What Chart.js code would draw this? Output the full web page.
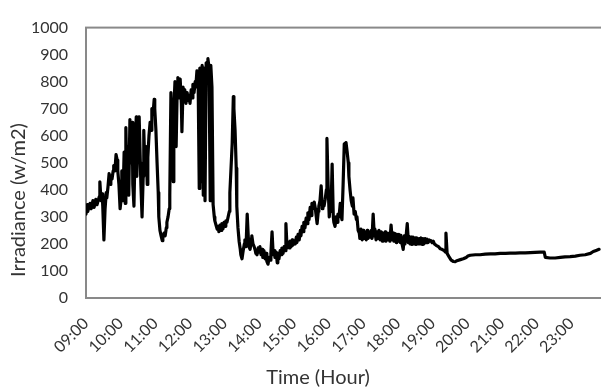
<!DOCTYPE html>
<html lang="en">
<head>
<meta charset="UTF-8">
<title>Irradiance</title>
<script src="https://cdn.jsdelivr.net/npm/chart.js"></script>
<style>
    html, body { margin: 0; padding: 0; overflow: hidden; background: #fff; }
    canvas { display: block; }
</style>
</head>
<body>
<canvas id="irradianceChart" width="612" height="389"></canvas>
<script>
    // logger readings (time of day, w/m2)
    const times = [
        '09:00','09:02','09:03','09:07','09:09','09:12','09:14','09:17','09:19','09:23',
        '09:24','09:26','09:28','09:29','09:31','09:33','09:35','09:36','09:38','09:40',
        '09:42','09:43','09:45','09:47','09:48','09:50','09:52','09:54','09:55','09:57',
        '09:59','10:01','10:02','10:04','10:06','10:08','10:09','10:11','10:13','10:14',
        '10:16','10:18','10:20','10:21','10:23','10:25','10:27','10:28','10:30','10:32',
        '10:34','10:35','10:37','10:39','10:40','10:42','10:44','10:46','10:47','10:49',
        '10:51','10:53','10:54','10:56','10:58','10:59','11:01','11:03','11:05','11:06',
        '11:08','11:10','11:12','11:13','11:15','11:17','11:19','11:20','11:22','11:24',
        '11:25',
        '11:27','11:29','11:31','11:32','11:34','11:36','11:38','11:39','11:41','11:43',
        '11:45','11:46','11:48','11:50','11:51','11:53','11:55','11:57','11:58','12:00',
        '12:02','12:04','12:05','12:07','12:09','12:10','12:12','12:14','12:16','12:17',
        '12:19','12:21','12:23','12:24','12:26','12:28','12:30','12:31','12:33','12:35',
        '12:36','12:38','12:40','12:42','12:43','12:45','12:47','12:49','12:50','12:52',
        '12:54','12:55','12:57','12:59','13:01','13:02','13:04','13:06','13:08','13:09',
        '13:11','13:13','13:15','13:16','13:18','13:20','13:21','13:23','13:25','13:27',
        '13:28','13:30','13:32','13:34','13:35','13:37','13:39','13:41','13:42','13:44',
        '13:46','13:47','13:49','13:51','13:53','13:54','13:56','13:58',
        '14:00','14:01','14:03','14:05','14:06','14:08','14:10','14:12','14:13','14:15',
        '14:17','14:19','14:20','14:22','14:24','14:26','14:27','14:29','14:31','14:32',
        '14:34','14:36','14:38','14:39','14:41','14:43','14:45','14:46','14:48','14:50',
        '14:52','14:53','14:55','14:57','14:58','15:00','15:02','15:04','15:05','15:07',
        '15:09','15:11','15:12','15:14','15:16','15:17','15:19','15:21','15:23','15:24',
        '15:26','15:28','15:30','15:31','15:33','15:35','15:37','15:38','15:40','15:42',
        '15:43','15:45','15:47','15:49','15:50','15:52','15:54','15:56','15:57','15:59',
        '16:01','16:03','16:04','16:06','16:08','16:09','16:11','16:13','16:15','16:16',
        '16:18','16:20','16:22','16:23','16:25','16:27','16:28','16:30','16:32','16:34',
        '16:35','16:37','16:39','16:41','16:42','16:44','16:46','16:48','16:49','16:51',
        '16:53','16:54','16:56','16:58','17:00','17:01','17:03','17:05','17:07','17:08',
        '17:10','17:12','17:14','17:15','17:17','17:19','17:20','17:22','17:24','17:26',
        '17:27','17:29','17:31','17:33','17:34','17:36','17:38','17:39','17:41','17:43',
        '17:45','17:46','17:48','17:50','17:52','17:53','17:55','17:57','17:58','18:00',
        '18:02','18:04','18:05','18:07','18:09','18:11','18:12','18:14','18:16','18:18',
        '18:19','18:21','18:23','18:24','18:26','18:28','18:30','18:31','18:33','18:35',
        '18:37','18:38','18:40','18:42','18:43','18:45','18:47','18:49','18:50','18:52',
        '18:54','18:56','18:57','18:59','19:01','19:03',
        '19:06','19:10','19:13','19:16','19:20','19:22','19:23','19:25','19:29','19:32',
        '19:36','19:39','19:42','19:48','19:53','19:58','20:01','20:05','20:14','20:22',
        '20:31','20:40','20:48','20:57','21:06','21:14','21:23','21:31','21:40','21:49',
        '21:57','22:06','22:13','22:15','22:23','22:32','22:41','22:49','22:58','23:07',
        '23:15','23:24','23:33','23:38','23:43','23:48'
    ];

    const irradiance = [
        310,345,320,350,330,360,335,365,345,375,
        430,360,385,340,215,330,390,370,410,460,
        420,450,440,470,490,470,530,510,470,420,
        330,370,470,360,540,350,630,420,560,380,
        660,500,650,420,340,560,670,450,640,670,
        500,420,300,450,620,480,560,420,520,600,
        650,620,700,680,735,700,620,500,390,300,
        250,230,212,225,240,230,260,280,300,330,
        380,
        760,560,430,700,800,560,790,815,740,810,
        720,615,780,740,770,720,760,730,750,720,
        770,740,790,760,800,780,840,820,405,850,
        430,860,380,850,360,870,820,885,850,360,
        860,780,345,300,285,270,255,265,245,270,
        250,275,255,280,265,285,280,300,320,390,
        480,570,745,700,620,480,340,260,210,180,
        160,145,175,200,215,190,310,220,190,180,
        210,230,200,190,175,165,160,185,
        170,190,160,180,150,175,145,165,135,125,
        150,140,165,245,160,175,150,170,130,165,
        145,175,160,185,165,190,175,275,185,205,
        185,210,190,215,195,210,200,225,205,235,
        215,250,230,265,245,280,260,295,275,315,
        290,335,305,350,330,355,330,310,275,320,
        340,360,415,330,355,340,365,400,590,420,
        300,350,320,495,300,280,265,300,280,310,
        300,350,300,290,420,570,560,575,540,500,
        450,400,360,340,370,310,320,290,300,250,
        240,220,255,215,250,220,245,215,250,220,
        245,225,250,220,310,230,255,215,245,220,
        250,215,245,210,240,215,245,210,240,215,
        240,210,270,215,240,210,238,205,235,210,
        235,205,232,200,180,230,200,228,275,205,
        228,200,225,198,225,200,222,198,222,200,
        220,200,222,198,220,200,220,205,218,205,
        215,210,212,205,210,200,
        195,190,182,180,175,170,240,165,150,140,
        135,134,138,142,145,150,155,158,160,160,
        162,163,163,165,165,166,166,167,167,168,
        169,170,170,150,148,148,150,152,153,155,
        158,160,165,172,176,180
    ];

    const hourLabels = ['09:00','10:00','11:00','12:00','13:00','14:00','15:00','16:00',
        '17:00','18:00','19:00','20:00','21:00','22:00','23:00'];

    function toHours(t) {
        const [h, m] = t.split(':').map(Number);
        return h + m / 60;
    }

    const points = times.map((t, i) => ({ x: toHours(t), y: irradiance[i] }));

    const textColor = '#333333';
    const axisGray = '#898989';

    // box round the plot area
    const plotFrame = {
        id: 'plotFrame',
        beforeDatasetsDraw(chart) {
            const { ctx, chartArea: a } = chart;
            ctx.save();
            ctx.strokeStyle = axisGray;
            ctx.lineWidth = 2;
            ctx.strokeRect(a.left, a.top, a.right - a.left, a.bottom - a.top);
            ctx.restore();
        }
    };

    // axis titles sit where the original put them
    const axisTitles = {
        id: 'axisTitles',
        afterDraw(chart) {
            const ctx = chart.ctx;
            ctx.save();
            ctx.fillStyle = textColor;
            ctx.font = '20px Lato';
            ctx.textAlign = 'center';
            ctx.textBaseline = 'alphabetic';
            ctx.fillText('Time (Hour)', 318, 384);
            ctx.translate(25, 200);
            ctx.rotate(-Math.PI / 2);
            ctx.fillText('Irradiance (w/m2)', 0, 0);
            ctx.restore();
        }
    };

    new Chart(document.getElementById('irradianceChart'), {
        type: 'line',
        data: {
            datasets: [{
                label: 'Irradiance',
                data: points,
                borderColor: '#000000',
                borderWidth: 3.2,
                borderJoinStyle: 'round',
                borderCapStyle: 'round',
                pointRadius: 0,
                tension: 0,
                fill: false
            }]
        },
        options: {
            responsive: false,
            animation: false,
            layout: { padding: { top: 15, right: 6, left: 0, bottom: 0 } },
            plugins: { legend: { display: false }, tooltip: { enabled: false } },
            scales: {
                x: {
                    type: 'linear',
                    min: 9,
                    max: 24,
                    afterFit(scale) { scale.height = 91; },
                    border: { display: false },
                    grid: { display: false, drawTicks: false },
                    ticks: {
                        stepSize: 1,
                        includeBounds: false,
                        autoSkip: false,
                        minRotation: 45,
                        maxRotation: 45,
                        padding: 16,
                        color: textColor,
                        font: { family: 'Lato', size: 16 },
                        callback: v => hourLabels[Math.round(v) - 9]
                    }
                },
                y: {
                    min: 0,
                    max: 1000,
                    afterFit(scale) { scale.width = 86; },
                    border: { display: false },
                    grid: { display: false, drawTicks: false },
                    ticks: {
                        stepSize: 100,
                        padding: 18,
                        color: textColor,
                        font: { family: 'Lato', size: 16 },
                        callback: v => String(v)
                    }
                }
            }
        },
        plugins: [plotFrame, axisTitles]
    });
</script>
</body>
</html>
